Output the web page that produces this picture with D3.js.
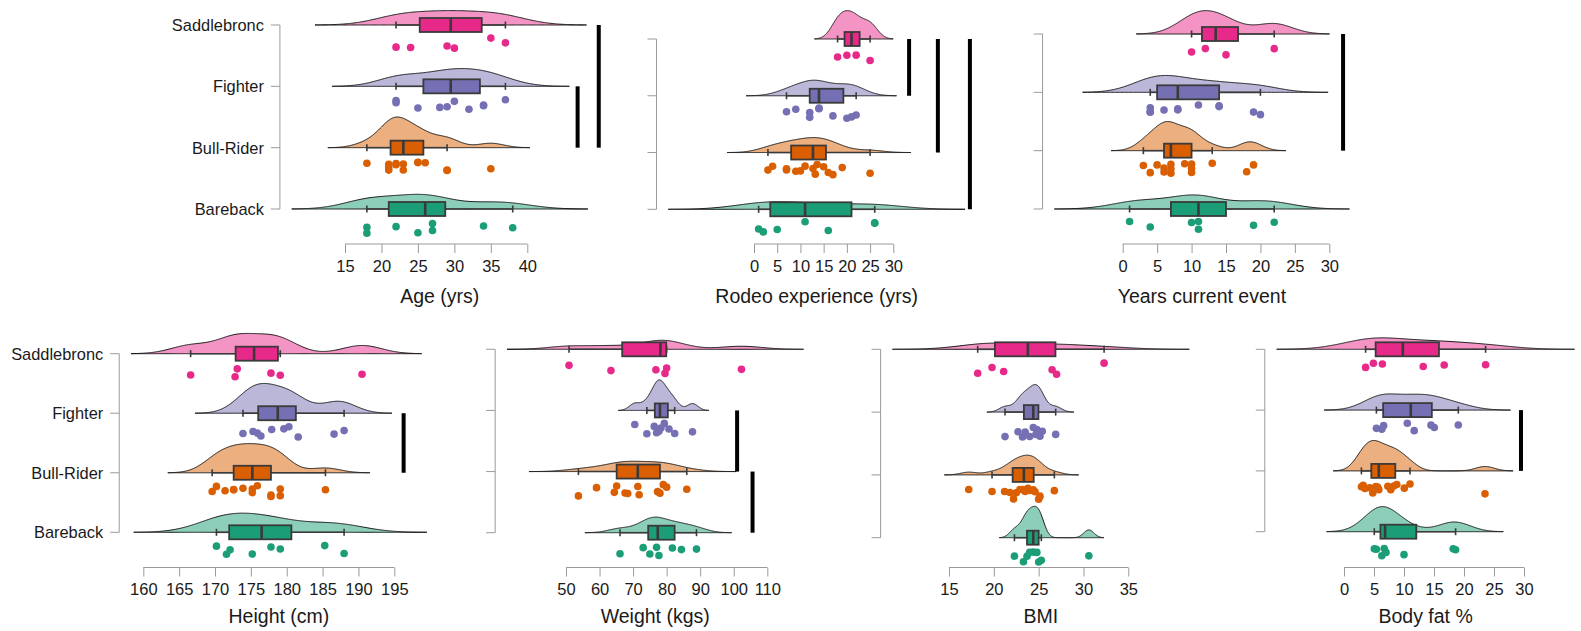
<!DOCTYPE html>
<html>
<head>
<meta charset="utf-8">
<script src="https://cdn.jsdelivr.net/npm/d3@7"></script>
<style>
  html, body { margin: 0; padding: 0; background: #fff; }
  svg { display: block; font-family: "Liberation Sans", Arial, sans-serif; }
</style>
</head>
<body>
<svg id="chart" width="1581" height="631"></svg>
<script>
// Event groups, drawn top to bottom, with their Dark2 colours
const groups = ["Saddlebronc", "Fighter", "Bull-Rider", "Bareback"];
const groupColors = ["#E7298A", "#7570B3", "#D95F02", "#1B9E77"];

// Age (yrs)
const ageSaddlebronc = [22, 24, 29, 30, 35, 37];
const ageFighter = [22, 22, 25, 28, 29, 30, 32, 34, 34, 37];
const ageBullRider = [18, 21, 21, 21, 22, 22, 23, 23, 25, 25, 26, 29, 29, 35];
const ageBareback = [18, 18, 22, 25, 27, 27, 34, 38];
const ageTicks = [15, 20, 25, 30, 35, 40];
const ageSig = [{ from: 1, to: 2, at: 46.9 }, { from: 0, to: 2, at: 49.8 }];

// Rodeo experience (yrs)
const rodeoSaddlebronc = [18, 20, 22, 25];
const rodeoFighter = [7, 9, 12, 12, 14, 14, 17, 20, 21, 22];
const rodeoBullRider = [3, 4, 7, 7, 9, 10, 11, 12.7, 13.2, 13.6, 15, 16, 17, 19, 25];
const rodeoBareback = [1, 2, 5, 11, 16, 26, 26];
const rodeoTicks = [0, 5, 10, 15, 20, 25, 30];
const rodeoSig = [{ from: 0, to: 1, at: 33.4 }, { from: 0, to: 2, at: 39.6 }, { from: 0, to: 3, at: 46.5 }];

// Years current event
const yearsSaddlebronc = [10, 12, 15, 22];
const yearsFighter = [4, 4, 4, 6, 8, 8, 11, 14, 14, 19, 20];
const yearsBullRider = [3, 4, 5, 6, 6, 7, 7, 7, 9, 10, 10, 10, 13, 18, 19];
const yearsBareback = [1, 4, 10, 11, 11, 19, 22];
const yearsTicks = [0, 5, 10, 15, 20, 25, 30];
const yearsSig = [{ from: 0, to: 2, at: 32.0 }];

// Height (cm)
const heightSaddlebronc = [166.6, 172.8, 173.1, 177.8, 179.1, 190.5];
const heightFighter = [173.9, 175.3, 175.9, 176.4, 177.9, 179.6, 180.3, 181.6, 186.6, 188.0];
const heightBullRider = [169.6, 170.2, 171.4, 172.6, 172.6, 173.9, 175.2, 175.2, 175.9, 177.8, 177.8, 179.1, 179.1, 185.4];
const heightBareback = [170.2, 171.6, 172.1, 175.2, 177.8, 179.1, 185.3, 188.0];
const heightTicks = [160, 165, 170, 175, 180, 185, 190, 195];
const heightSig = [{ from: 1, to: 2, at: 196.3 }];

// Weight (kgs)
const weightSaddlebronc = [50.9, 63.4, 76.8, 79.5, 80.0, 102.3];
const weightFighter = [70.5, 74.1, 76.3, 77.0, 77.7, 78.3, 79.3, 80.7, 82.4, 87.7];
const weightBullRider = [53.7, 59.1, 64.4, 65.1, 67.6, 68.4, 71.4, 71.8, 77.3, 78.0, 79.0, 80.0, 86.0];
const weightBareback = [66.1, 73.0, 75.0, 77.0, 77.7, 81.7, 84.4, 88.9];
const weightTicks = [50, 60, 70, 80, 90, 100, 110];
const weightSig = [{ from: 1, to: 2, at: 101.0 }, { from: 2, to: 3, at: 105.6 }];

// BMI
const bmiSaddlebronc = [18.2, 19.8, 21.1, 26.5, 27.0, 32.3];
const bmiFighter = [21.25, 22.7, 23.2, 23.5, 24.0, 24.4, 24.7, 24.8, 25.15, 25.4, 26.9];
const bmiBullRider = [17.2, 19.8, 21.2, 21.8, 22.2, 22.5, 22.9, 23.2, 23.5, 23.8, 24.0, 24.4, 24.6, 25.0, 25.15, 26.75];
const bmiBareback = [22.3, 23.3, 23.7, 24.0, 24.4, 24.8, 25.0, 25.3, 30.6];
const bmiTicks = [15, 20, 25, 30, 35];
const bmiSig = [];

// Body fat %
const fatSaddlebronc = [3.6, 4.9, 6.4, 13.2, 16.7, 23.6];
const fatFighter = [5.4, 6.3, 6.6, 10.55, 11.7, 14.5, 15.05, 19.05];
const fatBullRider = [2.9, 3.2, 3.5, 4.3, 4.8, 5.3, 5.6, 5.8, 7.3, 7.8, 8.3, 8.8, 10.05, 11.0, 23.5];
const fatBareback = [5.05, 5.4, 6.3, 6.7, 7.0, 10.0, 18.2, 18.6];
const fatTicks = [0, 5, 10, 15, 20, 25, 30];
const fatSig = [{ from: 1, to: 2, at: 29.5 }];

// Panel layout: x range in pixels for the tick span, pixel rows for the first and last group,
// and the pixel row of the bottom axis
const panels = [
  { title: "Age (yrs)", series: [ageSaddlebronc, ageFighter, ageBullRider, ageBareback], ticks: ageTicks, sig: ageSig,
    px: [345, 527.3], rows: [25, 209], axisY: 244, labels: true, titleGap: 52 },
  { title: "Rodeo experience (yrs)", series: [rodeoSaddlebronc, rodeoFighter, rodeoBullRider, rodeoBareback], ticks: rodeoTicks, sig: rodeoSig,
    px: [754, 893.3], rows: [39, 209.3], axisY: 244, labels: false, titleGap: 52 },
  { title: "Years current event", series: [yearsSaddlebronc, yearsFighter, yearsBullRider, yearsBareback], ticks: yearsTicks, sig: yearsSig,
    px: [1122.7, 1329.3], rows: [34, 209], axisY: 244, labels: false, titleGap: 52 },
  { title: "Height (cm)", series: [heightSaddlebronc, heightFighter, heightBullRider, heightBareback], ticks: heightTicks, sig: heightSig,
    px: [143.3, 394.3], rows: [353.7, 532.3], axisY: 567.5, labels: true, titleGap: 48 },
  { title: "Weight (kgs)", series: [weightSaddlebronc, weightFighter, weightBullRider, weightBareback], ticks: weightTicks, sig: weightSig,
    px: [566, 767.3], rows: [349.3, 532.7], axisY: 567.5, labels: false, titleGap: 48 },
  { title: "BMI", series: [bmiSaddlebronc, bmiFighter, bmiBullRider, bmiBareback], ticks: bmiTicks, sig: bmiSig,
    px: [949, 1128.3], rows: [349.3, 537.7], axisY: 567.5, labels: false, titleGap: 48 },
  { title: "Body fat %", series: [fatSaddlebronc, fatFighter, fatBullRider, fatBareback], ticks: fatTicks, sig: fatSig,
    px: [1344, 1524], rows: [349.3, 531.7], axisY: 567.5, labels: false, titleGap: 48 }
];

const svg = d3.select("#chart");
svg.append("rect").attr("width", 1581).attr("height", 631).attr("fill", "#fff");

// Silverman's rule of thumb (R's bw.nrd0)
function bwNrd0(values) {
  const s = values.slice().sort(d3.ascending);
  const sd = d3.deviation(s);
  const iqr = d3.quantileSorted(s, 0.75) - d3.quantileSorted(s, 0.25);
  let lo = Math.min(sd, iqr / 1.34);
  if (!(lo > 0)) lo = sd || Math.abs(s[0]) || 1;
  return 0.9 * lo * Math.pow(s.length, -0.2);
}

// Gaussian kernel density, extended three bandwidths past the data
function kde(values, bw) {
  const lo = d3.min(values) - 3 * bw, hi = d3.max(values) + 3 * bw, n = 300;
  const k = 1 / (bw * Math.sqrt(2 * Math.PI));
  return d3.range(n).map(i => {
    const x = lo + (hi - lo) * i / (n - 1);
    const y = d3.mean(values, v => Math.exp(-0.5 * ((x - v) / bw) ** 2)) * k;
    return [x, y];
  });
}

function boxStats(values) {
  const s = values.slice().sort(d3.ascending);
  const q1 = d3.quantileSorted(s, 0.25), med = d3.quantileSorted(s, 0.5), q3 = d3.quantileSorted(s, 0.75);
  const iqr = q3 - q1;
  const lowW = d3.min(s.filter(v => v >= q1 - 1.5 * iqr));
  const highW = d3.max(s.filter(v => v <= q3 + 1.5 * iqr));
  return { q1, med, q3, lowW, highW };
}

// Small seeded generator for the vertical spread of the rain points
function mulberry32(a) {
  return function () {
    a |= 0; a = a + 0x6D2B79F5 | 0;
    let t = Math.imul(a ^ a >>> 15, 1 | a);
    t = t + Math.imul(t ^ t >>> 7, 61 | t) ^ t;
    return ((t ^ t >>> 14) >>> 0) / 4294967296;
  };
}

const axisColor = "#9a9a9a";
const textColor = "#1a1a1a";
const boxStroke = "#3a3a3a";

panels.forEach((p, pi) => {
  const x = d3.scaleLinear().domain([p.ticks[0], p.ticks[p.ticks.length - 1]]).range(p.px);
  const y = d3.scalePoint().domain(groups).range(p.rows);
  const spacing = (p.rows[1] - p.rows[0]) / (groups.length - 1);

  const dens = p.series.map(v => kde(v, bwNrd0(v)));
  const maxD = d3.max(dens, d => d3.max(d, e => e[1]));
  const h = d3.scaleLinear().domain([0, maxD]).range([0, 0.5 * spacing]);

  const g = svg.append("g");

  // Plot region spans all densities
  const minX = d3.min(dens, d => x(d[0][0]));
  const maxX = d3.max(dens, d => x(d[d.length - 1][0]));
  const yAxisX = minX - 0.04 * (maxX - minX);
  const axisY = p.axisY;

  // Left axis with one tick per group
  g.append("line").attr("x1", yAxisX).attr("x2", yAxisX)
    .attr("y1", p.rows[0]).attr("y2", p.rows[1])
    .attr("stroke", axisColor).attr("stroke-width", 1);
  groups.forEach(gr => {
    g.append("line").attr("x1", yAxisX - 9).attr("x2", yAxisX)
      .attr("y1", y(gr)).attr("y2", y(gr))
      .attr("stroke", axisColor).attr("stroke-width", 1);
    if (p.labels) {
      g.append("text").attr("x", yAxisX - 16).attr("y", y(gr))
        .attr("text-anchor", "end").attr("dominant-baseline", "central")
        .attr("font-size", 16.4).attr("fill", textColor).text(gr);
    }
  });

  // Bottom axis
  const xAxis = d3.axisBottom(x).tickValues(p.ticks).tickSize(9).tickPadding(7).tickFormat(d3.format("d"));
  const ax = g.append("g").attr("transform", `translate(0,${axisY})`).call(xAxis);
  ax.select(".domain").attr("stroke", axisColor).attr("d", `M${p.px[0]},0H${p.px[1]}`);
  ax.selectAll(".tick line").attr("stroke", axisColor);
  ax.selectAll(".tick text").attr("font-size", 16.5).attr("fill", textColor)
    .attr("font-family", "\"Liberation Sans\", Arial, sans-serif");

  g.append("text").attr("x", (minX + maxX) / 2).attr("y", axisY + p.titleGap)
    .attr("text-anchor", "middle").attr("dominant-baseline", "central")
    .attr("font-size", 19.5).attr("fill", textColor).text(p.title);

  const rand = mulberry32(1000 + pi * 37);

  p.series.forEach((vals, gi) => {
    const cy = y(groups[gi]);
    const col = groupColors[gi];

    // Cloud
    const area = d3.area().x(d => x(d[0])).y0(cy).y1(d => cy - h(d[1])).curve(d3.curveLinear);
    g.append("path").datum(dens[gi]).attr("d", area)
      .attr("fill", col).attr("fill-opacity", 0.5)
      .attr("stroke", "#1a1a1a").attr("stroke-width", 1);

    // Box and whiskers
    const b = boxStats(vals);
    const bh = 7, cap = 3.5;
    g.append("line").attr("x1", x(b.lowW)).attr("x2", x(b.q1)).attr("y1", cy).attr("y2", cy)
      .attr("stroke", boxStroke).attr("stroke-width", 1.6);
    g.append("line").attr("x1", x(b.q3)).attr("x2", x(b.highW)).attr("y1", cy).attr("y2", cy)
      .attr("stroke", boxStroke).attr("stroke-width", 1.6);
    [b.lowW, b.highW].forEach(v => {
      g.append("line").attr("x1", x(v)).attr("x2", x(v)).attr("y1", cy - cap).attr("y2", cy + cap)
        .attr("stroke", boxStroke).attr("stroke-width", 1.6);
    });
    g.append("rect").attr("x", x(b.q1)).attr("y", cy - bh)
      .attr("width", x(b.q3) - x(b.q1)).attr("height", 2 * bh)
      .attr("fill", col).attr("stroke", boxStroke).attr("stroke-width", 1.8);
    g.append("line").attr("x1", x(b.med)).attr("x2", x(b.med)).attr("y1", cy - bh).attr("y2", cy + bh)
      .attr("stroke", boxStroke).attr("stroke-width", 2.6);

    // Rain
    g.selectAll(null).data(vals).enter().append("circle")
      .attr("cx", d => x(d))
      .attr("cy", () => cy + spacing * (0.21 + 0.19 * rand()))
      .attr("r", 3.8).attr("fill", col);
  });

  // Significance bars between groups
  p.sig.forEach(s => {
    g.append("line").attr("x1", x(s.at)).attr("x2", x(s.at))
      .attr("y1", y(groups[s.from])).attr("y2", y(groups[s.to]))
      .attr("stroke", "#000").attr("stroke-width", 4);
  });
});
</script>
</body>
</html>
